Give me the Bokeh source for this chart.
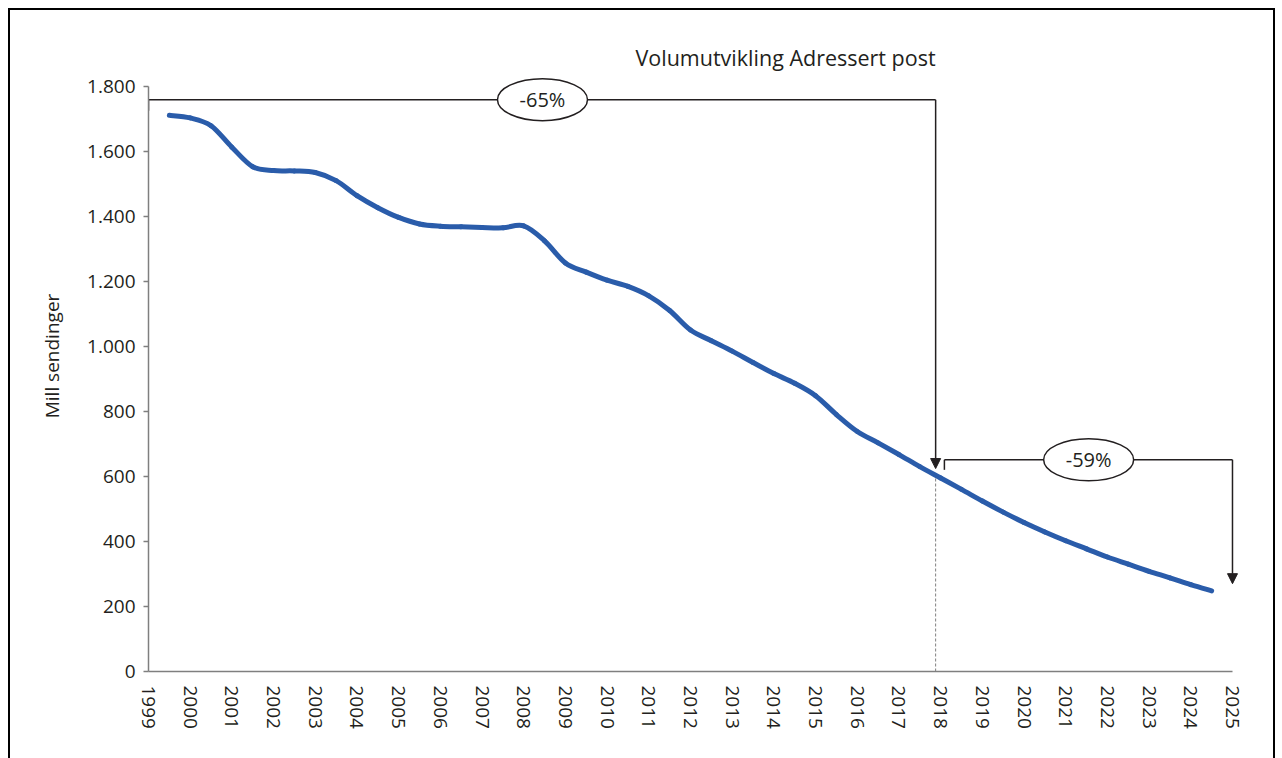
import math
import numpy as np
from bokeh.plotting import figure
from bokeh.models import Range1d, FixedTicker, Arrow, NormalHead
from bokeh.core.properties import value
from bokeh.embed import file_html
from bokeh.resources import INLINE

# ---------------- data ----------------
title_text = "Volumutvikling Adressert post"
y_axis_label = "Mill sendinger"

years = [1999.5, 2000.0, 2000.5, 2001.0, 2001.5, 2002.0, 2002.5, 2003.0, 2003.5,
         2004.0, 2004.5, 2005.0, 2005.5, 2006.0, 2006.5, 2007.0, 2007.5, 2008.0,
         2008.5, 2009.0, 2009.5, 2010.0, 2010.5, 2011.0, 2011.5, 2012.0, 2012.5,
         2013.0, 2013.5, 2014.0, 2014.5, 2015.0, 2015.5, 2016.0, 2016.5, 2017.0,
         2017.5, 2018.0, 2018.5, 2019.0, 2019.5, 2020.0, 2020.5, 2021.0, 2021.5,
         2022.0, 2022.5, 2023.0, 2023.5, 2024.0, 2024.5]
volume = [1710, 1702, 1678, 1612, 1552, 1540, 1539, 1534, 1509,
          1463, 1426, 1396, 1376, 1369, 1367, 1365, 1364, 1370,
          1324, 1256, 1228, 1203, 1184, 1155, 1110, 1050, 1017,
          985, 950, 916, 886, 848, 790, 738, 703, 667,
          630, 595, 560, 524, 490, 458, 429, 402, 377,
          352, 330, 308, 288, 267, 248]

x_ticks = list(range(1999, 2026))
x_tick_labels = [str(t) for t in x_ticks]
y_ticks = [0, 200, 400, 600, 800, 1000, 1200, 1400, 1600, 1800]
y_tick_labels = ["0", "200", "400", "600", "800", "1.000", "1.200", "1.400", "1.600", "1.800"]

change_labels = ["-65%", "-59%"]
change_from_year = [1999, 2018]
change_to_year = [2018, 2025]

# ---------------- styling ----------------
FONT = "Open Sans"
TXT = "#231f20"
AX = "#7f7f7f"
BLUE = "#2a5caa"

p = figure(frame_width=1109, frame_height=631,
           min_border_left=138, min_border_right=16,
           min_border_top=30, min_border_bottom=87,
           x_range=Range1d(1999, 2025.6), y_range=Range1d(0, 1940),
           output_backend="svg", toolbar_location=None,
           background_fill_color="white", border_fill_color="white")
p.styles = {"margin-left": "8px", "margin-top": "8px",
            "border-left": "2px solid #000", "border-top": "2px solid #000",
            "border-right": "2px solid #000"}
p.outline_line_color = None
p.grid.visible = False

# axes
p.xaxis.ticker = FixedTicker(ticks=x_ticks)
p.xaxis.major_label_overrides = {t: l for t, l in zip(x_ticks, x_tick_labels)}
p.xaxis.bounds = (x_ticks[0], x_ticks[-1])
p.xaxis.major_label_orientation = -math.pi / 2
p.xaxis.major_tick_out = 0
p.xaxis.major_tick_in = 0
p.xaxis.minor_tick_out = 0
p.xaxis.minor_tick_in = 0
p.xaxis.major_label_standoff = 14

p.yaxis.ticker = FixedTicker(ticks=y_ticks)
p.yaxis.major_label_overrides = {t: l for t, l in zip(y_ticks, y_tick_labels)}
p.yaxis.bounds = (y_ticks[0], y_ticks[-1])
p.yaxis.major_tick_out = 5
p.yaxis.major_tick_in = 0
p.yaxis.minor_tick_out = 0
p.yaxis.minor_tick_in = 0
p.yaxis.major_label_standoff = 8
p.yaxis.axis_label = y_axis_label
p.yaxis.axis_label_standoff = 19

for ax in (p.xaxis[0], p.yaxis[0]):
    ax.axis_line_color = AX
    ax.axis_line_width = 1.5
    ax.major_tick_line_color = AX
    ax.major_tick_line_width = 1.5
    ax.major_label_text_font = FONT
    ax.major_label_text_font_size = "19px"
    ax.major_label_text_color = TXT
    ax.axis_label_text_font = FONT
    ax.axis_label_text_font_size = "19px"
    ax.axis_label_text_font_style = "normal"
    ax.axis_label_text_color = TXT

# dashed reference line at 2018 (from axis to curve)
split_x = 2017.88
split_val = 595
p.segment(x0=[split_x], y0=[0], x1=[split_x], y1=[split_val],
          line_color=AX, line_width=1, line_dash="3 2")

# smoothed line (Excel-like) via bezier segments
x = np.array(years, dtype=float)
y = np.array(volume, dtype=float)
xm = np.concatenate([[x[0]], x[:-2]])
ym = np.concatenate([[y[0]], y[:-2]])
xp2 = np.concatenate([x[2:], [x[-1]]])
yp2 = np.concatenate([y[2:], [y[-1]]])
x0, y0 = x[:-1], y[:-1]
x1, y1 = x[1:], y[1:]
cx0 = x0 + (x1 - xm) / 6.0
cy0 = y0 + (y1 - ym) / 6.0
cx1 = x1 - (xp2 - x0) / 6.0
cy1 = y1 - (yp2 - y0) / 6.0
p.bezier(x0=x0, y0=y0, x1=x1, y1=y1, cx0=cx0, cy0=cy0, cx1=cx1, cy1=cy1,
         line_color=BLUE, line_width=5, line_cap="round")

# ---- change brackets ----
LW = 1.5
# -65% bracket
b1_y = 1758
b1_tick_end = 1724
b1_arrow_end = 624
p.segment(x0=[change_from_year[0], change_from_year[0]], y0=[b1_y, b1_y],
          x1=[change_from_year[0], split_x], y1=[b1_tick_end, b1_y],
          line_color=TXT, line_width=LW)
p.add_layout(Arrow(end=NormalHead(size=10, fill_color=TXT, line_color=TXT, line_width=1),
                   x_start=split_x, y_start=b1_y, x_end=split_x, y_end=b1_arrow_end,
                   line_color=TXT, line_width=LW))
# -59% bracket
b2_x0 = 2018.09
b2_y = 651
b2_tick_end = 620
b2_arrow_end = 270
p.segment(x0=[b2_x0, b2_x0], y0=[b2_y, b2_y],
          x1=[b2_x0, change_to_year[1]], y1=[b2_tick_end, b2_y],
          line_color=TXT, line_width=LW)
p.add_layout(Arrow(end=NormalHead(size=10, fill_color=TXT, line_color=TXT, line_width=1),
                   x_start=change_to_year[1], y_start=b2_y, x_end=change_to_year[1], y_end=b2_arrow_end,
                   line_color=TXT, line_width=LW))

# ellipses with labels
ell_x = [2008.45, 2021.55]
ell_y = [b1_y, b2_y]
p.ellipse(x=ell_x, y=ell_y, width=90, height=42, width_units="screen", height_units="screen",
          fill_color="white", line_color=TXT, line_width=LW)
p.text(x=ell_x, y=ell_y, text=change_labels, text_font=value(FONT), text_font_size="20px",
       text_color=TXT, text_align="center", text_baseline="middle")

# title
p.text(x=[2014.28], y=[1888], text=[title_text], text_font=value(FONT), text_font_size="21.5px",
       text_color=TXT, text_align="center", text_baseline="middle")

open("out.html", "w").write(file_html(p, INLINE))
